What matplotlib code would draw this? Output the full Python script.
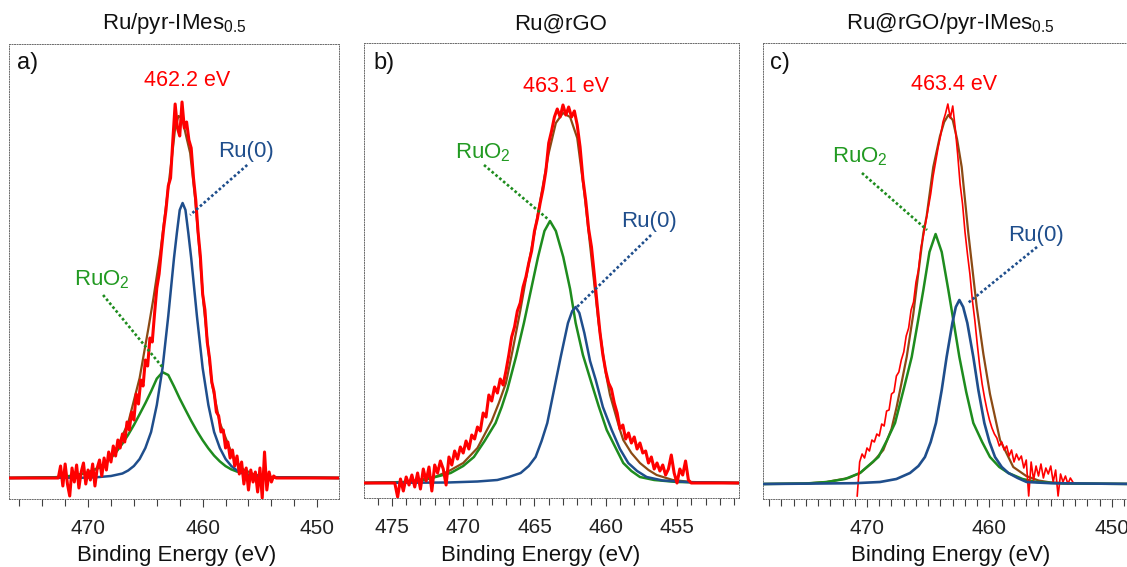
import matplotlib
matplotlib.use('Agg')
import matplotlib.pyplot as plt
from matplotlib.ticker import MultipleLocator

plt.rcParams['font.family'] = ['Liberation Sans', 'DejaVu Sans']
plt.rcParams['mathtext.fontset'] = 'custom'
plt.rcParams['mathtext.rm'] = 'Liberation Sans'
plt.rcParams['mathtext.it'] = 'Liberation Sans:italic'

# ---------------- text ----------------
titles = ['Ru/pyr-IMes$_{0.5}$', 'Ru@rGO', 'Ru@rGO/pyr-IMes$_{0.5}$']
panel_tags = ['a)', 'b)', 'c)']
peak_labels = ['462.2 eV', '463.1 eV', '463.4 eV']
xlabel = 'Binding Energy (eV)'
label_ru = 'Ru(0)'
label_ruo2 = 'RuO$_2$'
major_ticks = [[470, 460, 450], [475, 470, 465, 460, 455], [470, 460, 450]]

# ---------------- panel a data (intensity, arb. units) ----------------
a_red_E = [477.0,
           472.6, 472.4, 472.2, 472.0, 471.8, 471.6, 471.4, 471.2, 471.0, 470.8,
           470.6, 470.4, 470.2, 470.0, 469.8, 469.6, 469.4, 469.2, 469.0, 468.8,
           468.6, 468.4, 468.2, 468.0, 467.8, 467.6, 467.4, 467.2, 467.0, 466.8,
           466.6, 466.4, 466.2, 466.0, 465.8, 465.6, 465.4, 465.2, 465.0, 464.8,
           464.6, 464.4, 464.2, 464.0, 463.8, 463.6, 463.4, 463.2, 463.0, 462.8,
           462.6, 462.4, 462.2, 462.0, 461.8, 461.6, 461.4, 461.2, 461.0, 460.8,
           460.6, 460.4, 460.2, 460.0, 459.8, 459.6, 459.4, 459.2, 459.0, 458.8,
           458.6, 458.4, 458.2, 458.0, 457.8, 457.6, 457.4, 457.2, 457.0, 456.8,
           456.6, 456.4, 456.2, 456.0, 455.8, 455.6, 455.4, 455.2, 455.0, 454.8,
           454.6, 454.4, 454.2, 454.0, 453.8, 453.6,
           448.0]
a_red_h = [0,
           0, 12, -8, 14, -6, -18, 10, -4, 13, -10,
           6, 15, -6, 8, -2, 14, -8, 10, 18, 2,
           20, 8, 26, 16, 32, 22, 38, 30, 44, 36,
           56, 48, 66, 58, 84, 74, 98, 92, 118, 112,
           140, 136, 164, 190, 204, 228, 250, 268, 292, 300,
           338, 374, 350, 342, 376, 350, 356, 338, 330, 300,
           278, 246, 222, 184, 168, 136, 120, 96, 86, 66,
           62, 46, 48, 30, 36, 20, 28, 12, 22, 4,
           16, -6, 10, -12, 8, -4, 6, -14, 10, -20,
           26, -12, 6, -4, 2, 0,
           0]
a_blue_E = [477, 470, 469, 468, 467, 466.5, 466, 465.5, 465, 464.5, 464, 463.5, 463,
            462.5, 462.25, 462, 461.75, 461.5, 461.25, 461, 460.5, 460, 459.5, 459,
            458.5, 458, 457.5, 457, 456.5, 456, 455, 454, 448]
a_blue_h = [0, 0.3, 1, 2, 4.5, 7.5, 12, 19, 30, 46, 73, 110, 162,
            220, 245, 268, 275, 268, 245, 220, 162, 110, 73, 46,
            30, 19, 12, 7.5, 4.5, 3, 1.5, 0.6, 0]
a_green_E = [477, 473, 472, 471, 470, 469, 468, 467.5, 467, 466.5, 466, 465.5, 465,
             464.5, 464, 463.5, 463, 462.5, 462, 461.5, 461, 460.5, 460, 459.5, 459,
             458.5, 458, 457.5, 457, 456, 455, 454, 448]
a_green_h = [0, 0.7, 1.4, 3, 5.7, 10.4, 20, 26.6, 34.4, 43.2, 53, 63.8, 74.8,
             86.6, 99.4, 105.8, 103, 91.6, 79.4, 68.2, 57.2, 47, 37.8, 29.6, 22.4,
             16.6, 11.9, 8.6, 6.4, 3.4, 1.6, 0.8, 0]
a_env_E = [477, 472, 470, 468.5, 467.5, 466.5, 465.5, 464.73, 464.29, 463.71, 463.22,
           462.69, 462.4, 462.11, 461.8, 461.4, 461.09, 460.66, 460.28, 459.93, 459.2,
           458.5, 457.3, 456.5, 455.5, 454, 448]
a_env_h = [0, 1, 5, 14, 30, 55, 100, 150, 180, 224, 270,
           320, 350, 362, 360, 340, 325, 280, 228, 175, 95,
           55, 20, 9, 3.5, 1, 0]

# ---------------- panel b data ----------------
b_red_E = [477.0,
           474.8, 474.6, 474.4, 474.2, 474.0, 473.8, 473.6, 473.4, 473.2, 473.0,
           472.8, 472.6, 472.4, 472.2, 472.0, 471.8, 471.6, 471.4, 471.2, 471.0,
           470.8, 470.6, 470.4, 470.2, 470.0, 469.8, 469.6, 469.4, 469.2, 469.0,
           468.8, 468.6, 468.4, 468.2, 468.0, 467.8, 467.6, 467.4, 467.2, 467.0,
           466.8, 466.6, 466.4, 466.2, 466.0, 465.8, 465.6, 465.4, 465.2, 465.0,
           464.8, 464.6, 464.4, 464.2, 464.0, 463.8, 463.6, 463.4, 463.2, 463.0,
           462.8, 462.6, 462.4, 462.2, 462.0, 461.8, 461.6, 461.4, 461.2, 461.0,
           460.8, 460.6, 460.4, 460.2, 460.0, 459.8, 459.6, 459.4, 459.2, 459.0,
           458.8, 458.6, 458.4, 458.2, 458.0, 457.8, 457.6, 457.4, 457.2, 457.0,
           456.8, 456.6, 456.4, 456.2, 456.0, 455.8, 455.6, 455.4, 455.2, 455.0,
           454.8, 454.6, 454.4, 454.2, 454.0,
           450.6]
b_red_h = [0,
           0, -14, 4, -8, 6, -2, 8, -4, 10, -6,
           14, 2, 16, -8, 18, 10, 22, 14, -2, 26,
           18, 32, 24, 36, 30, 42, 34, 48, 44, 56,
           52, 70, 66, 88, 82, 96, 90, 104, 98, 112,
           128, 146, 156, 172, 180, 196, 206, 220, 232, 252,
           264, 280, 294, 312, 340, 352, 366, 374, 366, 378,
           368, 376, 366, 372, 358, 336, 304, 282, 254, 236,
           208, 178, 150, 128, 112, 100, 94, 80, 70, 54,
           58, 44, 50, 40, 46, 34, 40, 30, 32, 20,
           26, 14, 20, 12, 18, 8, 14, 28, 10, 0,
           14, 8, 22, 3, 0,
           0]
b_blue_E = [477, 471.1, 469, 467.61, 466.8, 465.97, 465.4, 464.92, 464.5, 464.1, 463.63,
            463.16, 462.65, 462.35, 462.11, 461.85, 461.5, 461.1, 460.7, 460.2, 459.58,
            459.0, 458.42, 457.8, 457.13, 456, 454, 450.6]
b_blue_h = [0, 0.5, 1.5, 3, 6, 10, 17, 26, 42, 60, 93,
            126, 160, 172, 176, 170, 150, 122, 103, 76, 53,
            34, 20, 12, 6, 2.5, 0.7, 0]
b_green_E = [477, 474, 472.75, 470.88, 470, 469.25, 468.5, 467.73, 467.3, 466.91, 466.3,
             465.74, 465.2, 464.75, 464.3, 463.91, 463.5, 462.98, 462.5, 462.11, 461.6,
             461.0, 460.5, 459.93, 459.3, 458.77, 458.2, 457.6, 456.6, 455, 450.6]
b_green_h = [0, 1, 3, 10, 17, 26, 42, 60, 76, 93, 126,
             160, 196, 226, 252, 262, 252, 226, 194, 160, 128,
             100, 77, 53, 35, 20, 12, 6, 3, 1, 0]
b_env_E = [477, 474, 472, 471, 470, 469, 468, 467.5, 467, 466.5, 466, 465.5, 465, 464.5,
           464, 463.5, 463, 462.5, 462, 461.5, 461, 460.5, 460, 459.7, 459.3, 459.0,
           458.77, 458.2, 457.6, 457, 456.43, 455.3, 454, 450.6]
b_env_h = [0, 1, 6, 12, 20, 35, 62, 80, 100, 135, 172, 212, 250, 290,
           330, 360, 370, 366, 345, 290, 225, 160, 110, 88, 68, 53,
           43, 30, 20, 13, 8, 3, 1, 0]

# ---------------- panel c data ----------------
c_red_E = [470.8, 470.6, 470.4, 470.2, 470.0, 469.8, 469.6, 469.4, 469.2, 469.0,
           468.8, 468.6, 468.4, 468.2, 468.0, 467.8, 467.6, 467.4, 467.2, 467.0,
           466.8, 466.6, 466.4, 466.2, 466.0, 465.8, 465.6, 465.4, 465.2, 465.0,
           464.8, 464.6, 464.4, 464.2, 464.0, 463.8, 463.6, 463.4, 463.2, 463.0,
           462.8, 462.6, 462.4, 462.2, 462.0, 461.8, 461.6, 461.4, 461.2, 461.0,
           460.8, 460.6, 460.4, 460.2, 460.0, 459.8, 459.6, 459.4, 459.2, 459.0,
           458.8, 458.6, 458.4, 458.2, 458.0, 457.8, 457.6, 457.4, 457.2, 457.0,
           456.8, 456.6, 456.4, 456.2, 456.0, 455.8, 455.6, 455.4, 455.2, 455.0,
           454.8, 454.6, 454.4, 454.2, 454.0, 453.8, 453.6, 453.4, 453.2]
c_red_h = [-12, 22, 30, 26, 36, 33, 44, 42, 50, 48,
           60, 58, 73, 74, 90, 92, 108, 112, 124, 132,
           148, 156, 174, 182, 202, 214, 236, 248, 262, 276,
           290, 308, 322, 336, 348, 362, 370, 380, 366, 378,
           356, 330, 300, 280, 252, 230, 210, 184, 164, 140,
           118, 100, 86, 74, 64, 56, 50, 46, 38, 42,
           34, 38, 28, 34, 22, 30, 24, 28, 16, 24,
           -12, 22, 4, 18, 8, 20, 6, 16, 10, 18,
           2, 14, -12, 10, 2, 8, 0, 6, 2]
c_blue_E = [478.5, 471, 468.94, 467.6, 466.49, 465.8, 465.27, 464.8, 464.37, 463.9, 463.5,
            463.03, 462.75, 462.46, 462.15, 461.81, 461.32, 460.91, 460.42, 460.0, 459.55,
            459.0, 458.46, 457.7, 456.97, 455, 448]
c_blue_h = [0, 0.8, 2, 5, 11, 18, 27, 42, 61, 94, 127,
            161, 177, 184, 177, 161, 127, 94, 61, 42, 27,
            17, 11, 6, 2, 0.8, 0]
c_green_E = [478.5, 475, 473.29, 471.8, 470.57, 469.07, 468.4, 467.71, 467, 466.35, 465.85,
             465.4, 464.9, 464.4, 463.9, 463.36, 462.9, 462.46, 461.9, 461.32, 460.6,
             459.96, 459.2, 458.46, 457.3, 456.15, 454, 448]
c_green_h = [0, 0.5, 2, 5, 11, 27, 43, 61, 95, 127, 162,
             194, 232, 250, 232, 194, 160, 127, 92, 61, 42,
             27, 17, 11, 5, 2, 0.5, 0]
c_env_E = [478.5, 475, 473.3, 471.5, 470.57, 469.5, 468.67, 468, 467.58, 467.2, 466.76,
           466.22, 465.94, 465.4, 465.13, 464.59, 464.04, 463.7, 463.36, 463.0, 462.65,
           462.27, 461.73, 461.04, 460.5, 459.96, 459.14, 458.06, 457, 456, 455, 453, 448]
c_env_h = [0, 0.5, 2, 6, 11, 22, 34, 55, 77, 100, 127,
           170, 198, 251, 268, 317, 348, 362, 369, 364, 345,
           317, 251, 177, 130, 90, 44, 17, 8, 3.5, 1.5, 0.5, 0]

# ---------------- style ----------------
RED = '#FF0000'
BLUE = '#1F4E8C'
GREEN = '#1E8C1E'
GREEN_TXT = '#229A22'
BROWN = '#8B4A14'
W, H = 1127, 567

fig = plt.figure(figsize=(W / 100, H / 100), dpi=100)

# axes boxes in pixels: left, top, right, bottom
boxes = [(9, 44, 339, 499), (364, 43, 739, 498), (763, 43, 1130, 499)]
xlims = [(476.9, 448.1), (476.96, 450.65), (478.49, 448.53)]
ylims = [(-21, 434), (-15, 440), (-15, 441)]
minor_steps = [2, 1, 1]
title_x = [174, 561, 950]
xlabel_x = [177, 541, 951]

panels = [
    dict(red=(a_red_E, a_red_h), blue=(a_blue_E, a_blue_h), green=(a_green_E, a_green_h),
         env=(a_env_E, a_env_h), red_lw=2.2, red_top=True,
         ru_txt=(456.2, 326), ru_line=((456.11, 461.09), (313, 263)),
         ruo2_txt=(468.78, 198), ruo2_line=((468.69, 463.45), (183, 110)),
         peak_txt=(461.35, 398), tag=(0.023, 0.958)),
    dict(red=(b_red_E, b_red_h), blue=(b_blue_E, b_blue_h), green=(b_green_E, b_green_h),
         env=(b_env_E, b_env_h), red_lw=2.2, red_top=True,
         ru_txt=(456.96, 261), ru_line=((456.82, 462.02), (248, 176)),
         ruo2_txt=(468.61, 330), ruo2_line=((468.54, 463.98), (318, 263)),
         peak_txt=(462.79, 397), tag=(0.024, 0.956)),
    dict(red=(c_red_E, c_red_h), blue=(c_blue_E, c_blue_h), green=(c_green_E, c_green_h),
         env=(c_env_E, c_env_h), red_lw=1.2, red_top=False,
         ru_txt=(456.2, 248), ru_line=((456.12, 461.76), (237, 181)),
         ruo2_txt=(470.57, 327), ruo2_line=((470.41, 465.1), (311, 254)),
         peak_txt=(462.9, 399), tag=(0.019, 0.956)),
]

for i, p in enumerate(panels):
    l, t, r, b = boxes[i]
    ax = fig.add_axes([l / W, 1 - b / H, (r - l) / W, (b - t) / H])
    ax.set_xlim(*xlims[i])
    ax.set_ylim(*ylims[i])

    ax.plot(*p['env'], color=BROWN, lw=1.6, zorder=2)
    if p['red_top']:
        ax.plot(*p['green'], color=GREEN, lw=1.8, zorder=3)
        ax.plot(*p['blue'], color=BLUE, lw=1.8, zorder=4)
        ax.plot(*p['red'], color=RED, lw=p['red_lw'], zorder=5)
    else:
        ax.plot(*p['green'], color=GREEN, lw=1.8, zorder=3)
        ax.plot(*p['red'], color=RED, lw=p['red_lw'], zorder=4)
        ax.plot(*p['blue'], color=BLUE, lw=1.9, zorder=5)

    # annotations
    ax.plot(*p['ru_line'], color=BLUE, lw=1.9, linestyle=(0, (1, 0.9)), zorder=6)
    ax.plot(*p['ruo2_line'], color=GREEN, lw=1.9, linestyle=(0, (1, 0.9)), zorder=6)
    ax.text(*p['ru_txt'], label_ru, color=BLUE, fontsize=16, ha='center', va='center')
    ax.text(*p['ruo2_txt'], label_ruo2, color=GREEN_TXT, fontsize=16, ha='center', va='center')
    ax.text(*p['peak_txt'], peak_labels[i], color=RED, fontsize=15.5, ha='center', va='center')
    ax.text(*p['tag'], panel_tags[i], transform=ax.transAxes, fontsize=17,
            ha='left', va='center', color='#111111')

    # frame
    for s in ax.spines.values():
        s.set_linestyle((0, (1, 1.6)))
        s.set_linewidth(0.7)
        s.set_color('#6a6a6a')
    ax.set_yticks([])
    ax.set_xticks(major_ticks[i])
    ax.xaxis.set_minor_locator(MultipleLocator(minor_steps[i]))
    ax.tick_params(axis='x', which='both', direction='out', length=5, width=0.8,
                   color='#404040', labelsize=15, labelcolor='#222222', pad=9)
    ax.tick_params(axis='x', which='major', length=5.5)

    fig.text(title_x[i] / W, 1 - 24 / H, titles[i], ha='center', va='center',
             fontsize=16, color='#111111')
    fig.text(xlabel_x[i] / W, 1 - 555 / H, xlabel, ha='center', va='center',
             fontsize=16, color='#111111')

fig.savefig('out.png', dpi=100)
